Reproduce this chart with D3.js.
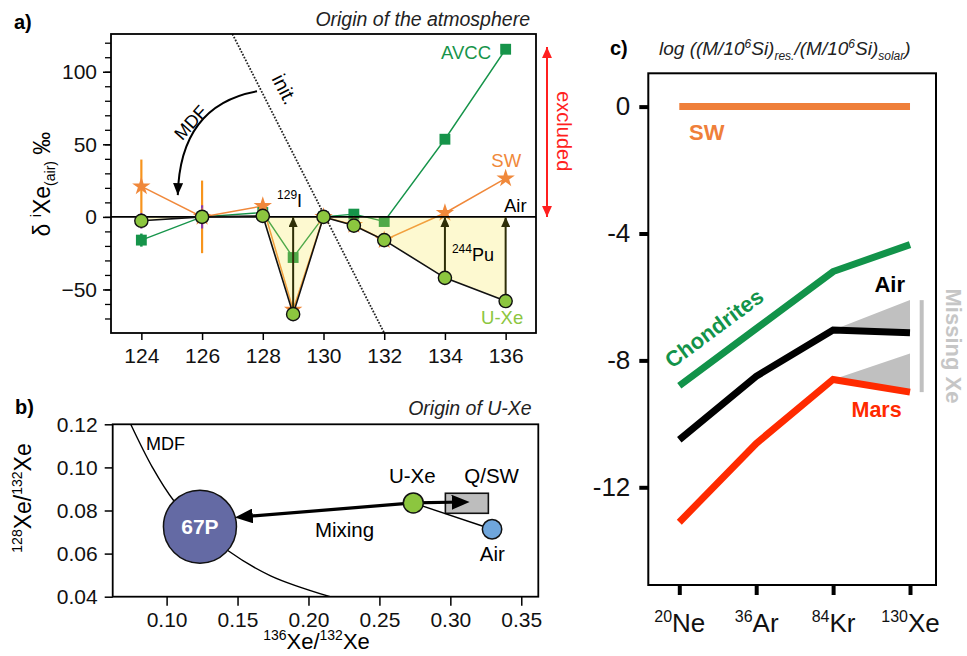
<!DOCTYPE html>
<html><head><meta charset="utf-8">
<script src="https://cdn.jsdelivr.net/npm/d3@7"></script>
<style>
body{margin:0;background:#fff;}
svg{font-family:"Liberation Sans", Arial, Helvetica, sans-serif; white-space:pre;}
</style></head><body>
<svg id="chart" width="967" height="656"></svg>
<script>
// ---------- Panel a data ----------
const isotopes = [124, 126, 128, 129, 130, 131, 132, 134, 136];
const uXeDelta = [-2.7, 0, 0.7, -67, 0, -6, -16, -42, -58];
const swDelta = [21, 0, 7.5, -64, 0, -5.5, -16, 2.7, 26.5];
const avccDelta = [-16, 0, 3, -28, 0, 1.9, -3.2, 53.5, 115.5];
const errIso = [124, 126];
const swErr = [18.5, 25];
const uXeErr = [5.4, 8];
const avccErr = [4.5, 0];
const arrowIso = [129, 134, 136];
const aXTicks = [124, 126, 128, 130, 132, 134, 136];
const aYTicks = [-50, 0, 50, 100];
const aYMinor = [-70, -60, -50, -40, -30, -20, -10, 0, 10, 20, 30, 40, 50, 60, 70, 80, 90, 100, 110, 120];
const initLine = [[127, 126], [132, -80]];
const mdfArrowA = [[127.81, 86.5], [125.27, 76.9], [125.2, 15]];
const excludedRange = [0, 117];

// ---------- Panel b data ----------
const comet67P = [0.1235, 0.0725];
const uXePoint = [0.2739, 0.0835];
const airPoint = [0.3294, 0.0713];
const qswBoxX = [0.2965, 0.3268];
const qswBoxY = [0.0787, 0.0880];
const mixLeftTip = [0.1481, 0.0768];
const mixRightTip = [0.3136, 0.0840];
const mdfCurveX = [0.0747, 0.090, 0.1047, 0.1235, 0.1434, 0.1733, 0.2153];
const mdfCurveY = [0.120, 0.100, 0.0849, 0.0725, 0.0613, 0.0497, 0.040];
const bXTicks = [0.10, 0.15, 0.20, 0.25, 0.30, 0.35];
const bYTicks = [0.04, 0.06, 0.08, 0.10, 0.12];

// ---------- Panel c data ----------
const gases = ["Ne", "Ar", "Kr", "Xe"];
const gasMass = ["20", "36", "84", "130"];
const swLog = [0, 0, 0, 0];
const chondritesLog = [-8.8, -7.0, -5.2, -4.35];
const airLog = [-10.5, -8.5, -7.04, -7.13];
const marsLog = [-13.1, -10.62, -8.6, -9.0];
const airMissingTop = -6.1;
const marsMissingTop = -7.78;
const missingBar = [-6.1, -9.0];
const cYTicks = [0, -4, -8, -12];

const svg = d3.select("#chart");
const defs = svg.append("defs");
function marker(id, color, len, wid) {
  defs.append("marker").attr("id", id).attr("viewBox", `0 0 ${len} ${wid}`)
    .attr("refX", len).attr("refY", wid / 2).attr("markerWidth", len).attr("markerHeight", wid)
    .attr("markerUnits", "userSpaceOnUse").attr("orient", "auto-start-reverse")
    .append("path").attr("d", `M0,0L${len},${wid / 2}L0,${wid}Z`).attr("fill", color);
}
marker("olive", "#2e2e08", 10, 9);
marker("blk", "#000", 12, 10);
marker("red", "#ff1f1f", 11, 10);
marker("mix", "#000", 18, 15);

function rich(t, parts, base) {
  let prev = 0;
  parts.forEach(p => {
    const s = p.s || 0;
    t.append("tspan").text(p.t).attr("font-size", p.f || base).attr("dy", s - prev);
    prev = s;
  });
}
function styleAxis(g, fs) {
  g.attr("font-family", null).attr("font-size", null);
  g.selectAll("text").attr("font-size", fs).attr("fill", "#111");
  g.selectAll(".domain").remove();
}
const minus = d => d < 0 ? "\u2212" + (-d) : String(d);

// =================== PANEL A ===================
const xA = d3.scaleLinear().domain([123, 137]).range([111, 536]);
const yA = d3.scaleLinear().domain([-80, 126]).range([333, 34]);
const gA = svg.append("g");
const lineA = arr => d3.line().x((d, i) => xA(isotopes[i])).y(d => yA(d))(arr);

gA.append("path").attr("d", lineA(avccDelta)).attr("fill", "none").attr("stroke", "#16944a").attr("stroke-width", 1.4);
gA.append("path").attr("d", lineA(swDelta)).attr("fill", "none").attr("stroke", "#f0883a").attr("stroke-width", 1.5);
errIso.forEach((iso, k) => {
  const i = isotopes.indexOf(iso);
  gA.append("line").attr("x1", xA(iso)).attr("x2", xA(iso))
    .attr("y1", yA(swDelta[i] - swErr[k])).attr("y2", yA(swDelta[i] + swErr[k]))
    .attr("stroke", "#f7941d").attr("stroke-width", 2.2);
  gA.append("line").attr("x1", xA(iso)).attr("x2", xA(iso))
    .attr("y1", yA(uXeDelta[i] - uXeErr[k])).attr("y2", yA(uXeDelta[i] + uXeErr[k]))
    .attr("stroke", "#8e3ca8").attr("stroke-width", 2.2);
  if (avccErr[k] > 0) gA.append("line").attr("x1", xA(iso)).attr("x2", xA(iso))
    .attr("y1", yA(avccDelta[i] - avccErr[k])).attr("y2", yA(avccDelta[i] + avccErr[k]))
    .attr("stroke", "#16944a").attr("stroke-width", 2.5);
});
gA.selectAll(".sq").data(avccDelta).join("path")
  .attr("transform", (d, i) => `translate(${xA(isotopes[i])},${yA(d)})`)
  .attr("d", d3.symbol(d3.symbolSquare, 118)()).attr("fill", "#16944a");
gA.selectAll(".st").data(swDelta).join("path")
  .attr("transform", (d, i) => `translate(${xA(isotopes[i])},${yA(d)})`)
  .attr("d", d3.symbol(d3.symbolStar, 105)()).attr("fill", "#f0883a");
gA.append("path")
  .attr("d", d3.area().x((d, i) => xA(isotopes[i])).y0(yA(0)).y1(d => yA(d))(uXeDelta))
  .attr("fill", "#f7e64a").attr("fill-opacity", 0.26);
gA.append("line").attr("x1", xA(123)).attr("x2", xA(137)).attr("y1", yA(0)).attr("y2", yA(0))
  .attr("stroke", "#000").attr("stroke-width", 1.6);
gA.append("path").attr("d", lineA(uXeDelta)).attr("fill", "none").attr("stroke", "#111").attr("stroke-width", 1.6);
arrowIso.forEach(iso => {
  const i = isotopes.indexOf(iso);
  gA.append("line").attr("x1", xA(iso)).attr("x2", xA(iso))
    .attr("y1", yA(uXeDelta[i]) - 6).attr("y2", yA(0))
    .attr("stroke", "#2e2e08").attr("stroke-width", 2).attr("marker-end", "url(#olive)");
});
gA.append("line").attr("x1", xA(initLine[0][0])).attr("y1", yA(initLine[0][1]))
  .attr("x2", xA(initLine[1][0])).attr("y2", yA(initLine[1][1]))
  .attr("stroke", "#222").attr("stroke-width", 1.8).attr("stroke-dasharray", "1.7,1.5");
gA.selectAll(".ci").data(uXeDelta).join("circle")
  .attr("cx", (d, i) => xA(isotopes[i])).attr("cy", d => yA(d)).attr("r", 6.6)
  .attr("fill", "#8cc63f").attr("stroke", "#111").attr("stroke-width", 1.4);
gA.append("rect").attr("x", 111).attr("y", 34).attr("width", 425).attr("height", 299)
  .attr("fill", "none").attr("stroke", "#000").attr("stroke-width", 1.8);
gA.append("g").attr("transform", `translate(${xA.range()[0]},0)`)
  .call(d3.axisLeft(yA).tickValues(aYMinor).tickSize(6).tickFormat(""))
  .call(g => styleAxis(g, 21)).selectAll("line").attr("stroke-width", 1.3);
gA.append("g").attr("transform", `translate(${xA.range()[0]},0)`)
  .call(d3.axisLeft(yA).tickValues(aYTicks).tickSize(8).tickPadding(6).tickFormat(minus))
  .call(g => styleAxis(g, 21)).selectAll("line").attr("stroke-width", 1.5);
gA.append("g").attr("transform", `translate(0,${yA.range()[0]})`)
  .call(d3.axisBottom(xA).tickValues(aXTicks).tickSize(7).tickPadding(8))
  .call(g => styleAxis(g, 21)).selectAll("line").attr("stroke-width", 1.5);
gA.append("path")
  .attr("d", `M${xA(mdfArrowA[0][0])},${yA(mdfArrowA[0][1])} Q${xA(mdfArrowA[1][0])},${yA(mdfArrowA[1][1])} ${xA(mdfArrowA[2][0])},${yA(mdfArrowA[2][1])}`)
  .attr("fill", "none").attr("stroke", "#000").attr("stroke-width", 2).attr("marker-end", "url(#blk)");
const initAngle = Math.atan2(yA(initLine[1][1]) - yA(initLine[0][1]), xA(initLine[1][0]) - xA(initLine[0][0])) * 180 / Math.PI;
gA.append("text").attr("transform", `translate(${xA(128.72)},${yA(88)}) rotate(${initAngle})`)
  .attr("text-anchor", "middle").attr("dy", "0.35em").attr("font-size", 20).text("init.");
gA.append("text").attr("transform", `translate(${xA(125.62)},${yA(65)}) rotate(-48)`)
  .attr("text-anchor", "middle").attr("dy", "0.35em").attr("font-size", 18).text("MDF");
rich(gA.append("text").attr("x", xA(128.47)).attr("y", yA(6.9)), [{t: "129", f: 12, s: -8}, {t: "I", s: 0}], 18);
rich(gA.append("text").attr("x", xA(134.23)).attr("y", yA(-30.3)), [{t: "244", f: 12, s: -8}, {t: "Pu", s: 0}], 18);
gA.append("text").attr("x", xA(135.52)).attr("y", yA(109)).attr("text-anchor", "end").attr("font-size", 18.5).attr("fill", "#16944a").text("AVCC");
gA.append("text").attr("x", xA(136.51)).attr("y", yA(34.4)).attr("text-anchor", "end").attr("font-size", 18.5).attr("fill", "#f0883a").text("SW");
gA.append("text").attr("x", xA(136.69)).attr("y", yA(3.6)).attr("text-anchor", "end").attr("font-size", 18.5).attr("fill", "#000").text("Air");
gA.append("text").attr("x", xA(136.58)).attr("y", yA(-73.5)).attr("text-anchor", "end").attr("font-size", 18.5).attr("fill", "#8cc63f").text("U-Xe");
gA.append("line").attr("x1", xA.range()[1] + 11).attr("x2", xA.range()[1] + 11)
  .attr("y1", yA(excludedRange[0])).attr("y2", yA(excludedRange[1]))
  .attr("stroke", "#ff1f1f").attr("stroke-width", 2)
  .attr("marker-start", "url(#red)").attr("marker-end", "url(#red)");
gA.append("text").attr("transform", `translate(${xA.range()[1] + 21},${yA(59)}) rotate(90)`)
  .attr("text-anchor", "middle").attr("font-size", 20).attr("fill", "#ff1f1f").text("excluded");
gA.append("text").attr("x", 530).attr("y", 26).attr("text-anchor", "end").attr("font-size", 19.5)
  .attr("font-style", "italic").attr("fill", "#222").text("Origin of the atmosphere");
gA.append("text").attr("x", 14).attr("y", 29).attr("font-size", 20).attr("font-weight", "bold").text("a)");
rich(gA.append("text").attr("transform", "translate(50,184) rotate(-90)").attr("text-anchor", "middle"),
  [{t: "\u03b4 "}, {t: "i", f: 14, s: -9}, {t: "Xe", s: 0}, {t: "(air)", f: 14, s: 5}, {t: " \u2030", s: 0}], 23);

// =================== PANEL B ===================
const xB = d3.scaleLinear().domain([0.062, 0.362]).range([112.7, 538.3]);
const yB = d3.scaleLinear().domain([0.04, 0.12]).range([596.7, 424.3]);
const gB = svg.append("g");
defs.append("clipPath").attr("id", "clipB").append("rect").attr("x", 112.7).attr("y", 424.3).attr("width", 425.6).attr("height", 172.4);
gB.append("path").attr("clip-path", "url(#clipB)")
  .attr("d", d3.line().curve(d3.curveCatmullRom).x((d, i) => xB(d)).y((d, i) => yB(mdfCurveY[i]))(mdfCurveX))
  .attr("fill", "none").attr("stroke", "#000").attr("stroke-width", 1.4);
gB.append("rect").attr("x", xB(qswBoxX[0])).attr("y", yB(qswBoxY[1]))
  .attr("width", xB(qswBoxX[1]) - xB(qswBoxX[0])).attr("height", yB(qswBoxY[0]) - yB(qswBoxY[1]))
  .attr("fill", "#bdbdbd").attr("stroke", "#111").attr("stroke-width", 1.6);
gB.append("line").attr("x1", xB(uXePoint[0])).attr("y1", yB(uXePoint[1]))
  .attr("x2", xB(airPoint[0])).attr("y2", yB(airPoint[1])).attr("stroke", "#000").attr("stroke-width", 1.4);
[mixLeftTip, mixRightTip].forEach(tip => {
  const x0 = xB(uXePoint[0]), y0 = yB(uXePoint[1]), x1 = xB(tip[0]), y1 = yB(tip[1]);
  const L = Math.hypot(x1 - x0, y1 - y0), ux = (x1 - x0) / L, uy = (y1 - y0) / L;
  gB.append("line").attr("x1", x0).attr("y1", y0).attr("x2", x1 - ux * 6).attr("y2", y1 - uy * 6)
    .attr("stroke", "#000").attr("stroke-width", 3.2);
  gB.append("line").attr("x1", x1 - ux * 8).attr("y1", y1 - uy * 8).attr("x2", x1).attr("y2", y1)
    .attr("stroke", "none").attr("marker-end", "url(#mix)");
});
gB.append("circle").attr("cx", xB(comet67P[0])).attr("cy", yB(comet67P[1])).attr("r", 36.5)
  .attr("fill", "#646aa4").attr("stroke", "#111").attr("stroke-width", 1.5);
gB.append("circle").attr("cx", xB(uXePoint[0])).attr("cy", yB(uXePoint[1])).attr("r", 10)
  .attr("fill", "#8cc63f").attr("stroke", "#111").attr("stroke-width", 1.5);
gB.append("circle").attr("cx", xB(airPoint[0])).attr("cy", yB(airPoint[1])).attr("r", 9.7)
  .attr("fill", "#6fa6dc").attr("stroke", "#111").attr("stroke-width", 1.5);
gB.append("text").attr("x", xB(comet67P[0])).attr("y", yB(comet67P[1])).attr("dy", "0.36em")
  .attr("text-anchor", "middle").attr("font-size", 21).attr("font-weight", "bold").attr("fill", "#fff").text("67P");
gB.append("rect").attr("x", 112.7).attr("y", 424.3).attr("width", 425.6).attr("height", 172.4)
  .attr("fill", "none").attr("stroke", "#000").attr("stroke-width", 1.8);
gB.append("g").attr("transform", `translate(${xB.range()[0]},0)`)
  .call(d3.axisLeft(yB).tickValues(bYTicks).tickSize(8).tickPadding(7).tickFormat(d3.format(".2f")))
  .call(g => styleAxis(g, 21)).selectAll("line").attr("stroke-width", 1.5);
gB.append("g").attr("transform", `translate(0,${yB.range()[0]})`)
  .call(d3.axisBottom(xB).tickValues(bXTicks).tickSize(9).tickPadding(6).tickFormat(d3.format(".2f")))
  .call(g => styleAxis(g, 21)).selectAll("line").attr("stroke-width", 1.5);
gB.append("text").attr("x", xB(0.0855)).attr("y", yB(0.108)).attr("font-size", 18).text("MDF");
gB.append("text").attr("x", xB(0.2732)).attr("y", yB(0.0926)).attr("text-anchor", "middle").attr("font-size", 20.5).text("U-Xe");
gB.append("text").attr("x", xB(0.3291)).attr("y", yB(0.0926)).attr("text-anchor", "middle").attr("font-size", 20.5).text("Q/SW");
gB.append("text").attr("x", xB(0.2254)).attr("y", yB(0.0678)).attr("text-anchor", "middle").attr("font-size", 20.5).text("Mixing");
gB.append("text").attr("x", xB(0.3296)).attr("y", yB(0.0565)).attr("text-anchor", "middle").attr("font-size", 20.5).text("Air");
gB.append("text").attr("x", 531.7).attr("y", 415).attr("text-anchor", "end").attr("font-size", 19.5)
  .attr("font-style", "italic").attr("fill", "#222").text("Origin of U-Xe");
gB.append("text").attr("x", 15).attr("y", 414).attr("font-size", 20).attr("font-weight", "bold").text("b)");
rich(gB.append("text").attr("transform", "translate(31,498) rotate(-90)").attr("text-anchor", "middle"),
  [{t: "128", f: 14, s: -9}, {t: "Xe/", s: 0}, {t: "132", f: 14, s: -9}, {t: "Xe", s: 0}], 23);
rich(gB.append("text").attr("x", 316.5).attr("y", 649).attr("text-anchor", "middle"),
  [{t: "136", f: 14, s: -9}, {t: "Xe/", s: 0}, {t: "132", f: 14, s: -9}, {t: "Xe", s: 0}], 22);

// =================== PANEL C ===================
const xC = d3.scaleLinear().domain([-0.403, 3.338]).range([648.3, 936]);
const yC = d3.scaleLinear().domain([-15.08, 1.05]).range([585, 73.3]);
const gC = svg.append("g");
const lineC = arr => d3.line().x((d, i) => xC(i)).y(d => yC(d))(arr);
gC.append("path").attr("d", `M${xC(2)},${yC(airLog[2])}L${xC(3)},${yC(airMissingTop)}L${xC(3)},${yC(airLog[3])}Z`).attr("fill", "#c0c0c0");
gC.append("path").attr("d", `M${xC(2)},${yC(marsLog[2])}L${xC(3)},${yC(marsMissingTop)}L${xC(3)},${yC(marsLog[3])}Z`).attr("fill", "#c0c0c0");
gC.append("path").attr("d", lineC(swLog)).attr("fill", "none").attr("stroke", "#ef7f3a").attr("stroke-width", 7);
gC.append("path").attr("d", lineC(chondritesLog)).attr("fill", "none").attr("stroke", "#12934a").attr("stroke-width", 7);
gC.append("path").attr("d", lineC(airLog)).attr("fill", "none").attr("stroke", "#000").attr("stroke-width", 7);
gC.append("path").attr("d", lineC(marsLog)).attr("fill", "none").attr("stroke", "#ff2a00").attr("stroke-width", 7);
gC.append("line").attr("x1", xC(3.152)).attr("x2", xC(3.152)).attr("y1", yC(missingBar[0])).attr("y2", yC(missingBar[1]))
  .attr("stroke", "#c0c0c0").attr("stroke-width", 4);
gC.append("rect").attr("x", 648.3).attr("y", 73.3).attr("width", 287.7).attr("height", 511.7)
  .attr("fill", "none").attr("stroke", "#000").attr("stroke-width", 2);
gC.append("g").attr("transform", `translate(${xC.range()[0]},0)`)
  .call(d3.axisLeft(yC).tickValues(cYTicks).tickSize(9).tickPadding(9).tickFormat(d => String(d)))
  .call(g => styleAxis(g, 26)).selectAll("line").attr("stroke-width", 4);
const axC = gC.append("g").attr("transform", `translate(0,${yC.range()[0]})`)
  .call(d3.axisBottom(xC).tickValues([0, 1, 2, 3]).tickSize(10).tickPadding(9).tickFormat(""))
  .call(g => styleAxis(g, 26));
axC.selectAll("line").attr("stroke-width", 4);
axC.selectAll(".tick").each(function (d) {
  const t = d3.select(this).append("text").attr("y", 46.7).attr("text-anchor", "middle").attr("fill", "#111");
  rich(t, [{t: gasMass[d], f: 16, s: -10}, {t: gases[d], s: 0}], 26);
});
gC.append("text").attr("x", xC(0.126)).attr("y", yC(-1.05)).attr("font-size", 22).attr("font-weight", "bold").attr("fill", "#ef7f3a").text("SW");
gC.append("text").attr("x", xC(2.935)).attr("y", yC(-5.84)).attr("text-anchor", "end").attr("font-size", 22).attr("font-weight", "bold").attr("fill", "#000").text("Air");
gC.append("text").attr("x", xC(2.892)).attr("y", yC(-9.8)).attr("text-anchor", "end").attr("font-size", 21.5).attr("font-weight", "bold").attr("fill", "#ff2a00").text("Mars");
const chAngle = Math.atan2(yC(chondritesLog[2]) - yC(chondritesLog[0]), xC(2) - xC(0)) * 180 / Math.PI;
gC.append("text").attr("transform", `translate(${xC(-0.095)},${yC(-8.27)}) rotate(${chAngle})`)
  .attr("font-size", 22).attr("font-weight", "bold").attr("fill", "#12934a").text("Chondrites");
gC.append("text").attr("transform", "translate(946,346) rotate(90)").attr("text-anchor", "middle")
  .attr("font-size", 22).attr("font-weight", "bold").attr("fill", "#c6c6c6").text("Missing Xe");
gC.append("text").attr("x", 610).attr("y", 55).attr("font-size", 20).attr("font-weight", "bold").text("c)");
rich(gC.append("text").attr("x", 659).attr("y", 55).attr("font-style", "italic").attr("fill", "#222"),
  [{t: "log ((M/10"}, {t: "6", f: 12, s: -7}, {t: "Si)", s: 0}, {t: "res.", f: 12, s: 5}, {t: "/(M/10", s: 0},
   {t: "6", f: 12, s: -7}, {t: "Si)", s: 0}, {t: "solar", f: 12, s: 5}, {t: ")", s: 0}], 19);
</script>
</body></html>
